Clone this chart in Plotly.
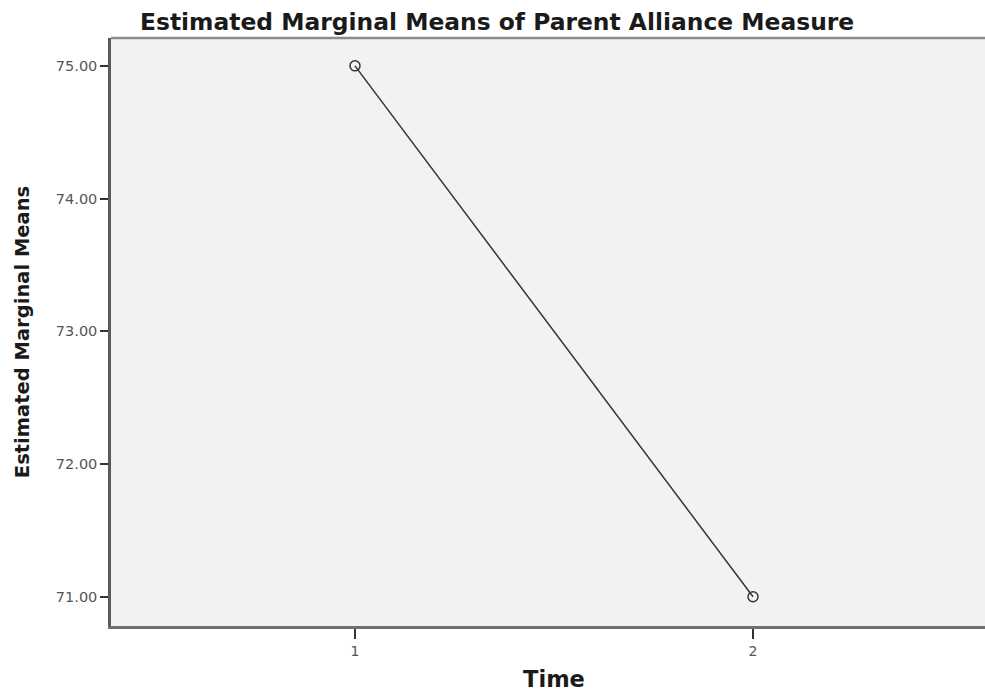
import plotly.graph_objects as go

time_points = [1, 2]
time_labels = ["1", "2"]
means = [75.00, 71.00]
y_ticks = [71.0, 72.0, 73.0, 74.0, 75.0]
y_tick_labels = ["71.00", "72.00", "73.00", "74.00", "75.00"]

BOLD = "DejaVu Sans, Verdana, sans-serif"

fig = go.Figure()
fig.add_trace(go.Scatter(
    x=time_points, y=means, mode="lines+markers",
    line=dict(color="#333333", width=1.5),
    marker=dict(symbol="circle-open", size=10, color="#333333", line=dict(width=1.5)),
    showlegend=False, hoverinfo="skip",
))

fig.update_layout(
    width=997, height=692,
    margin=dict(l=111, r=0, t=38, b=66),
    paper_bgcolor="white", plot_bgcolor="#f2f2f2",
    title=dict(text="<b>Estimated Marginal Means of Parent Alliance Measure</b>",
               x=140/997, xanchor="left", xref="container",
               y=1-22/692, yanchor="middle",
               font=dict(family=BOLD, size=23.4, color="#1a1a1a")),
    xaxis=dict(range=[0.387, 2.613], tickvals=time_points, ticktext=time_labels,
               showgrid=False, zeroline=False, showline=True, linecolor="#707070", linewidth=2.5,
               ticks="outside", ticklen=10, tickcolor="#333", tickwidth=1.5,
               tickfont=dict(family="DejaVu Sans", size=14, color="#555"),
               title=dict(text="<b>Time</b>", standoff=14,
                          font=dict(family=BOLD, size=22.5, color="#1a1a1a"))),
    yaxis=dict(range=[70.78, 75.21], tickvals=y_ticks, ticktext=y_tick_labels,
               showgrid=False, zeroline=False, showline=True, linecolor="#5a5a5a", linewidth=2.5,
               ticks="outside", ticklen=8, tickcolor="#333", tickwidth=1.5,
               tickfont=dict(family="DejaVu Sans", size=14.5, color="#555"),
               title=dict(text="<b>Estimated Marginal Means</b>", standoff=22,
                          font=dict(family=BOLD, size=19.5, color="#1a1a1a"))),
    shapes=[dict(type="line", xref="paper", yref="paper", x0=0, x1=1, y0=1, y1=1,
                 line=dict(color="#8a8a8a", width=2.5))],
)

fig.write_html("out.html", config={"displayModeBar": False},
               post_script="document.body.style.margin='0px';document.body.style.overflow='hidden';document.documentElement.style.overflow='hidden';")
